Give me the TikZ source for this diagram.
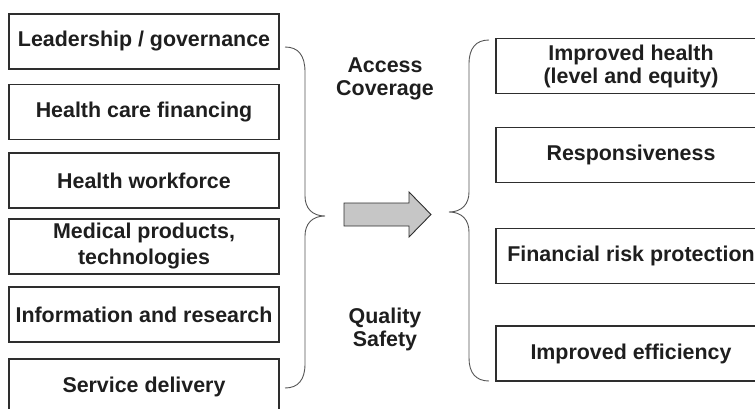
\documentclass[tikz,border=0pt]{standalone}
\usepackage{fontspec}
\setmainfont{Liberation Sans}
\definecolor{txt}{HTML}{1E1E1E}
\definecolor{ln}{HTML}{2E2E2E}
\definecolor{brc}{HTML}{555555}
\definecolor{arrfill}{HTML}{C6C6C6}
\tikzset{
  box/.style={draw=ln, line width=1.2pt, minimum width=270pt, minimum height=55pt,
    inner sep=0pt, align=center, text=txt, font=\fontsize{21.4}{23}\selectfont\bfseries},
  lbl/.style={inner sep=0pt, align=center, text=txt, font=\fontsize{21.4}{22.5}\selectfont\bfseries},
  brace/.style={draw=brc, line width=0.9pt},
}
\begin{document}
\begin{tikzpicture}[x=1pt,y=-1pt]
\useasboundingbox (0,0) rectangle (755,409);
\clip (0,0) rectangle (755,409);
% left column
\node[box] (l1) at (144,41.5) {Leadership / governance};
\node[box] (l2) at (144,112) {Health care financing};
\node[box] (l3) at (144,180.5) {Health workforce};
\node[box] (l4) at (144,246.5) {Medical products,\\[3pt]technologies};
\node[box] (l5) at (144,314.5) {Information and research};
\node[box] (l6) at (144,386.5) {Service delivery};
% right column
\node[box] (r1) at (631,66) {Improved health\\(level and equity)};
\node[box] (r2) at (631,155) {Responsiveness};
\node[box] (r3) at (631,256) {Financial risk protection};
\node[box] (r4) at (631,353.5) {Improved efficiency};
% labels
\node[lbl] (acc) at (385,79) {Access\\Coverage};
\node[lbl] (qual) at (385,329.5) {Quality\\Safety};
% left brace
\coordinate (lbt) at (285,47);
\coordinate (lbtip) at (325,216);
\coordinate (lbb) at (285,388);
\draw[brace] (lbt) .. controls (298,47) and (305,55) .. (305,72)
  -- (305,196) .. controls (305,208) and (312,216) .. (lbtip)
  .. controls (312,216) and (305,224) .. (305,236)
  -- (305,364) .. controls (305,380) and (298,388) .. (lbb);
% right brace
\coordinate (rbt) at (489,40);
\coordinate (rbtip) at (449,212);
\coordinate (rbb) at (489,381);
\draw[brace] (rbt) .. controls (476,40) and (469,48) .. (469,64)
  -- (469,192) .. controls (469,204) and (462,212) .. (rbtip)
  .. controls (462,212) and (469,220) .. (469,232)
  -- (469,358) .. controls (469,373) and (476,381) .. (rbb);
% arrow
\coordinate (atail) at (344,214.5);
\coordinate (atip) at (431,214.5);
\draw[draw=ln, fill=arrfill, line width=0.9pt, line join=miter]
  (344,203) -- (409,203) -- (409,192) -- (atip) -- (409,237) -- (409,226) -- (344,226) -- cycle;
\end{tikzpicture}
\end{document}
